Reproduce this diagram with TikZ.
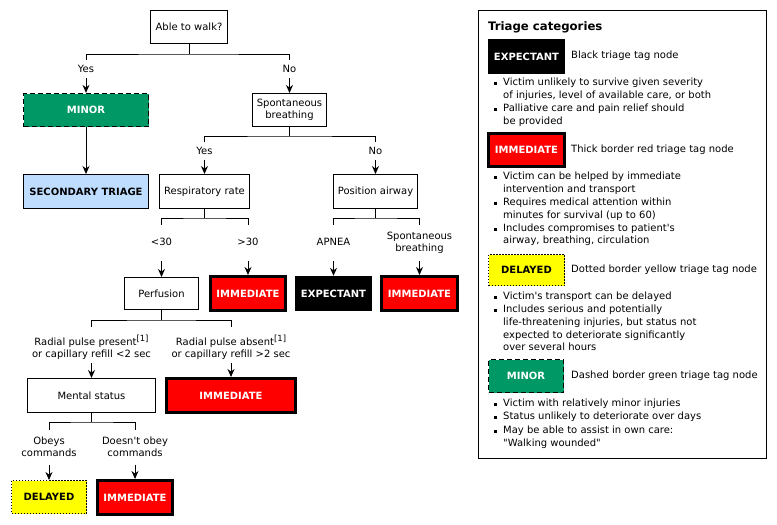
\documentclass[tikz,border=0pt]{standalone}
\usepackage{fontspec}
\setmainfont{DejaVu Sans}[Ligatures=TeXOff]
\usetikzlibrary{arrows.meta}
\definecolor{tagred}{RGB}{255,0,0}
\definecolor{taggreen}{RGB}{0,153,102}
\definecolor{tagyellow}{RGB}{255,255,0}
\definecolor{tagblue}{RGB}{191,222,255}
\newcommand{\fnorm}{\fontsize{10}{12}\selectfont}
\newcommand{\fbold}{\fontsize{10}{12}\selectfont\bfseries}
\newcommand{\refmark}{\raisebox{0.42em}{\fontsize{8.5}{9}\selectfont[1]}}
\tikzset{
  box/.style={draw=black, line width=1pt, fill=white, inner sep=0pt, align=center, font=\fnorm},
  immtag/.style={draw=black, line width=3pt, fill=tagred, text=white, inner sep=0pt, font=\fbold},
  exptag/.style={fill=black, text=white, inner sep=0pt, font=\fbold},
  deltag/.style={draw=black, line width=1pt, dash pattern=on 1.5pt off 1.5pt, fill=tagyellow, text=black, inner sep=0pt, font=\fbold},
  minortag/.style={draw=black, line width=1.2pt, dash pattern=on 5pt off 3pt, fill=taggreen, text=white, inner sep=0pt, font=\fbold},
  sectag/.style={draw=black, line width=1pt, fill=tagblue, text=black, inner sep=0pt, font=\fbold},
  lbl/.style={inner sep=0pt, align=center, font=\fnorm},
  conn/.style={draw=black, line width=1pt},
  arr/.style={draw=black, line width=1pt, -{Stealth[length=8pt,width=7pt]}},
  lgtxt/.style={inner sep=0pt, anchor=west, font=\fnorm, text height=7.5pt, text depth=2.5pt},
  bul/.style={fill=black, inner sep=0pt, minimum size=3pt},
}
\begin{document}
\begin{tikzpicture}[x=1pt,y=-1pt]
\useasboundingbox (0,0) rectangle (777,525);
\fill[white] (0,0) rectangle (777,525);

% ---------- flowchart nodes ----------
\node[box, minimum width=77, minimum height=33] (walk) at (189,27) {Able to walk?};
\node[minortag, minimum width=125, minimum height=33] (minor) at (86,110) {MINOR};
\node[sectag, minimum width=125, minimum height=34] (second) at (86,191.5) {SECONDARY TRIAGE};
\node[box, minimum width=74, minimum height=33] (spont) at (289.5,110) {Spontaneous\\breathing};
\node[box, minimum width=90, minimum height=34] (resp) at (204.5,191.5) {Respiratory rate};
\node[box, minimum width=84, minimum height=34] (posair) at (375.5,191.5) {Position airway};
\node[box, minimum width=74, minimum height=32] (perf) at (161.5,293.5) {Perfusion};
\node[immtag, minimum width=75, minimum height=34] (imm1) at (248,293.5) {IMMEDIATE};
\node[exptag, minimum width=77, minimum height=35] (exp1) at (333.5,293.5) {EXPECTANT};
\node[immtag, minimum width=76, minimum height=34] (imm2) at (419.5,293.5) {IMMEDIATE};
\node[box, minimum width=128, minimum height=34] (mental) at (91.5,395.5) {Mental status};
\node[immtag, minimum width=129, minimum height=34] (imm3) at (231,395.5) {IMMEDIATE};
\node[deltag, minimum width=75, minimum height=33] (del1) at (49,497) {DELAYED};
\node[immtag, minimum width=75, minimum height=34] (imm4) at (135,497.5) {IMMEDIATE};

% ---------- labels ----------
\node[lbl] (lwy) at (86,69) {Yes};
\node[lbl] (lwn) at (289.5,69) {No};
\node[lbl] (lsy) at (204.5,151) {Yes};
\node[lbl] (lsn) at (375.5,151) {No};
\node[lbl] (llt) at (161.5,242) {<30};
\node[lbl] (lgt) at (248,242) {>30};
\node[lbl] (lap) at (333.5,242) {APNEA};
\node[lbl] (lsb) at (419.5,243) {Spontaneous\\breathing};
\node[lbl] (lpp) at (91.5,347) {Radial pulse present\refmark\\or capillary refill <2 sec};
\node[lbl] (lpa) at (231,347) {Radial pulse absent\refmark\\or capillary refill >2 sec};
\node[lbl] (lob) at (49,447) {Obeys\\commands};
\node[lbl] (lno) at (135,447) {Doesn't obey\\commands};

% ---------- brackets ----------
\draw[conn] (walk.south) -- ++(0,10) coordinate (wj);
\coordinate (wL) at (86,60); \coordinate (wR) at (289.5,60);
\draw[conn] (wL) |- (wj) -| (wR);

\draw[conn] (spont.south) -- ++(0,9) coordinate (sj);
\coordinate (sL) at (204.5,142); \coordinate (sR) at (375.5,142);
\draw[conn] (sL) |- (sj) -| (sR);

\draw[conn] (resp.south) -- ++(0,9) coordinate (rj);
\coordinate (rL) at (161.5,225); \coordinate (rR) at (248,225);
\draw[conn] (rL) |- (rj) -| (rR);

\draw[conn] (posair.south) -- ++(0,9) coordinate (pj);
\coordinate (pL) at (333.5,225); \coordinate (pR) at (419.5,225);
\draw[conn] (pL) |- (pj) -| (pR);

\draw[conn] (perf.south) -- ++(0,10) coordinate (fj);
\coordinate (fL) at (91.5,327); \coordinate (fR) at (231,327);
\draw[conn] (fL) |- (fj) -| (fR);

\draw[conn] (mental.south) -- ++(0,9) coordinate (mj);
\coordinate (mL) at (49,430); \coordinate (mR) at (135,430);
\draw[conn] (mL) |- (mj) -| (mR);

% ---------- arrows ----------
\coordinate (a1) at (86,78);     \draw[arr] (a1) -- (minor);
\coordinate (a2) at (289.5,78);  \draw[arr] (a2) -- (spont);
\draw[arr] (minor) -- (second);
\coordinate (a3) at (204.5,160); \draw[arr] (a3) -- (resp);
\coordinate (a4) at (375.5,160); \draw[arr] (a4) -- (posair);
\coordinate (a5) at (161.5,261); \draw[arr] (a5) -- (perf);
\coordinate (a6) at (248,261);   \draw[arr] (a6) -- (imm1);
\coordinate (a7) at (333.5,261); \draw[arr] (a7) -- (exp1);
\coordinate (a8) at (419.5,261); \draw[arr] (a8) -- (imm2);
\coordinate (a9) at (91.5,363);  \draw[arr] (a9) -- (mental);
\coordinate (a10) at (231,363);  \draw[arr] (a10) -- (imm3);
\coordinate (a11) at (49,465);   \draw[arr] (a11) -- (del1);
\coordinate (a12) at (135,465);  \draw[arr] (a12) -- (imm4);

% ---------- legend ----------
\node[draw=black, line width=1pt, minimum width=288, minimum height=448, inner sep=0pt] (panel) at (622.5,234.5) {};
\node[inner sep=0pt, anchor=west, font=\fontsize{11.7}{14}\selectfont\bfseries] (title) at (488,27) {Triage categories};

\node[exptag, minimum width=77, minimum height=35] (lgexp) at (526.5,56.5) {EXPECTANT};
\node[lgtxt] (lgexpd) at (571,56) {Black triage tag node};
\node[bul] (b1) at (495,83) {}; \node[lgtxt] at (503,83) {Victim unlikely to survive given severity};
\node[lgtxt] at (503,96) {of injuries, level of available care, or both};
\node[bul] (b2) at (495,109) {}; \node[lgtxt] at (503,109) {Palliative care and pain relief should};
\node[lgtxt] at (503,122) {be provided};

\node[immtag, minimum width=76, minimum height=33] (lgimm) at (526.5,150) {IMMEDIATE};
\node[lgtxt] (lgimmd) at (571,150) {Thick border red triage tag node};
\node[bul] (b3) at (495,177) {}; \node[lgtxt] at (503,177) {Victim can be helped by immediate};
\node[lgtxt] at (503,190) {intervention and transport};
\node[bul] (b4) at (495,203) {}; \node[lgtxt] at (503,203) {Requires medical attention within};
\node[lgtxt] at (503,216) {minutes for survival (up to 60)};
\node[bul] (b5) at (495,229) {}; \node[lgtxt] at (503,229) {Includes compromises to patient's};
\node[lgtxt] at (503,241) {airway, breathing, circulation};

\node[deltag, minimum width=76, minimum height=31] (lgdel) at (526.5,270) {DELAYED};
\node[lgtxt] (lgdeld) at (571,270) {Dotted border yellow triage tag node};
\node[bul] (b6) at (495,297) {}; \node[lgtxt] at (503,297) {Victim's transport can be delayed};
\node[bul] (b7) at (495,310) {}; \node[lgtxt] at (503,310) {Includes serious and potentially};
\node[lgtxt] at (503,323) {life-threatening injuries, but status not};
\node[lgtxt] at (503,335.5) {expected to deteriorate significantly};
\node[lgtxt] at (503,348) {over several hours};

\node[minortag, minimum width=75, minimum height=33] (lgmin) at (526,376) {MINOR};
\node[lgtxt] (lgmind) at (571,376) {Dashed border green triage tag node};
\node[bul] (b8) at (495,404) {}; \node[lgtxt] at (503,404) {Victim with relatively minor injuries};
\node[bul] (b9) at (495,417) {}; \node[lgtxt] at (503,417) {Status unlikely to deteriorate over days};
\node[bul] (b10) at (495,431) {}; \node[lgtxt] at (503,431) {May be able to assist in own care:};
\node[lgtxt] at (503,444) {"Walking wounded"};
\end{tikzpicture}
\end{document}
